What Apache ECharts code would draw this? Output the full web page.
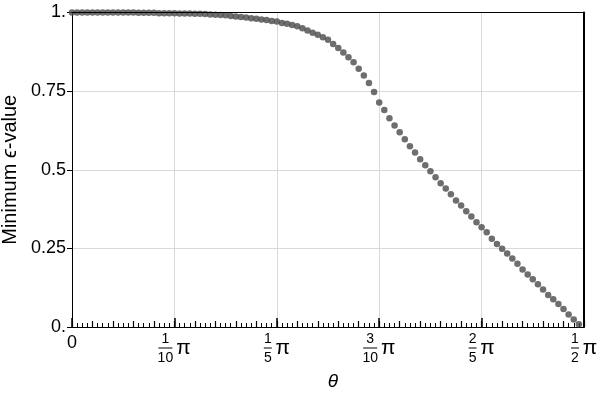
<!DOCTYPE html>
<html>
<head>
<meta charset="utf-8">
<script src="https://cdn.jsdelivr.net/npm/echarts@6/dist/echarts.min.js"></script>
<style>
  html, body { margin: 0; padding: 0; background: #fff; }
  #chart { width: 600px; height: 397px; }
</style>
</head>
<body>
<div id="chart"></div>
<script>
// θ 的采样间隔（以 π 为单位），每 π/200 一个点
const thetaStep = 0.005;
// 最小 ϵ 值
const minEpsilon = [
  1.000, 1.000, 1.000, 1.000, 1.000, 1.000, 1.000, 1.000, 1.000, 1.000,
  1.000, 1.000, 1.000, 0.999, 0.999, 0.999, 0.999, 0.998, 0.998, 0.998,
  0.998, 0.997, 0.997, 0.997, 0.996, 0.996, 0.995, 0.994, 0.993, 0.992,
  0.991, 0.989, 0.987, 0.986, 0.984, 0.982, 0.980, 0.978, 0.976, 0.973,
  0.971, 0.967, 0.964, 0.960, 0.956, 0.950, 0.943, 0.936, 0.929, 0.921,
  0.913, 0.900, 0.887, 0.873, 0.858, 0.842, 0.821, 0.800, 0.776, 0.747,
  0.714, 0.690, 0.664, 0.641, 0.619, 0.597, 0.575, 0.555, 0.533, 0.514,
  0.495, 0.476, 0.457, 0.440, 0.422, 0.402, 0.386, 0.368, 0.351, 0.333,
  0.317, 0.301, 0.281, 0.264, 0.249, 0.234, 0.218, 0.201, 0.183, 0.167,
  0.152, 0.136, 0.119, 0.102, 0.088, 0.073, 0.057, 0.040, 0.024, 0.009
];
// x 轴刻度：分子 / 分母（乘 π）
const xTickNum = ["0", "1", "1", "3", "2", "1"];
const xTickDen = ["", "10", "5", "10", "5", "2"];
const yTickLabels = ["0.", "0.25", "0.5", "0.75", "1."];

const FONT = "'Liberation Sans', Arial, sans-serif";

function xLabel(value) {
  let i = Math.round(value / 0.1);
  let num = xTickNum[i], den = xTickDen[i];
  if (!den) return "{z|" + num + "}";
  let w = den.length > 1 ? "w" : "n";
  return "{n" + w + "|" + num + "}{e| }\n" +
    "{g" + w + "| }{b" + w + "| }{g" + w + "| }{p|π}\n" +
    "{d" + w + "|" + den + "}{e| }";
}

const fracRich = {
  z: { fontSize: 18, lineHeight: 20, color: "#000", fontFamily: FONT },
  nw: { fontSize: 14, width: 18, lineHeight: 12, align: "center", color: "#000", fontFamily: FONT },
  nn: { fontSize: 14, width: 12, lineHeight: 12, align: "center", color: "#000", fontFamily: FONT },
  dw: { fontSize: 14, width: 18, lineHeight: 14, align: "center", color: "#000", fontFamily: FONT },
  dn: { fontSize: 14, width: 12, lineHeight: 14, align: "center", color: "#000", fontFamily: FONT },
  bw: { width: 14, height: 1, lineHeight: 6, align: "center", backgroundColor: "#000" },
  bn: { width: 8, height: 1, lineHeight: 6, align: "center", backgroundColor: "#000" },
  gw: { width: 2, lineHeight: 1, align: "center" },
  gn: { width: 2, lineHeight: 1, align: "center" },
  p: { fontSize: 21, width: 18, lineHeight: 6, align: "center", color: "#000", fontFamily: FONT },
  e: { width: 18, lineHeight: 1, align: "center" }
};

let myChart = echarts.init(document.getElementById("chart"));
myChart.setOption({
  animation: false,
  textStyle: { fontFamily: FONT },
  grid: { left: 72, right: 16, top: 12.5, bottom: 70, outerBoundsMode: "none" },
  xAxis: [
    {
      type: "value",
      min: 0,
      max: 0.5,
      interval: 0.1,
      position: "bottom",
      axisLine: { show: true, onZero: false, lineStyle: { color: "#000", width: 1 } },
      axisTick: { show: true, inside: true, length: 9, lineStyle: { color: "#000", width: 1.5 } },
      minorTick: { show: true, splitNumber: 20, length: 4, lineStyle: { color: "#000", width: 1 } },
      splitLine: { show: true, lineStyle: { color: "#d9d9d9", width: 1 } },
      axisLabel: { margin: 6, formatter: xLabel, rich: fracRich, color: "#000" },
      name: "θ",
      nameLocation: "middle",
      nameGap: 45,
      nameTextStyle: { fontSize: 19, fontStyle: "italic", color: "#000", fontFamily: FONT, padding: [0, 0, 0, 10] }
    },
    {
      // 中间刻度 π/50
      type: "value",
      min: 0,
      max: 0.5,
      interval: 0.02,
      position: "bottom",
      axisLine: { show: false, onZero: false },
      axisTick: { show: true, inside: true, length: 6, lineStyle: { color: "#000", width: 1.2 } },
      axisLabel: { show: false },
      splitLine: { show: false }
    },
    {
      // 上边框
      type: "value",
      min: 0,
      max: 0.5,
      position: "top",
      z: 3,
      axisLine: { show: true, onZero: false, lineStyle: { color: "#000", width: 1 } },
      axisTick: { show: false },
      axisLabel: { show: false },
      splitLine: { show: false }
    }
  ],
  yAxis: [
    {
      type: "value",
      min: 0,
      max: 1,
      interval: 0.25,
      position: "left",
      axisLine: { show: true, onZero: false, lineStyle: { color: "#000", width: 1 } },
      axisTick: { show: true, inside: false, length: 5, lineStyle: { color: "#000", width: 1 } },
      splitLine: { show: true, lineStyle: { color: "#d9d9d9", width: 1 } },
      axisLabel: {
        margin: 6,
        fontSize: 18,
        color: "#000",
        fontFamily: FONT,
        formatter: function(v) { return yTickLabels[Math.round(v / 0.25)]; }
      },
      name: "Minimum {e|ϵ}-value",
      nameLocation: "middle",
      nameGap: 52,
      nameTextStyle: {
        fontSize: 20,
        color: "#000",
        fontFamily: FONT,
        rich: { e: { fontSize: 20, fontStyle: "italic", color: "#000", fontFamily: FONT } }
      }
    },
    {
      // 右边框
      type: "value",
      min: 0,
      max: 1,
      position: "right",
      z: 3,
      axisLine: { show: true, onZero: false, lineStyle: { color: "#000", width: 2 } },
      axisTick: { show: false },
      axisLabel: { show: false },
      splitLine: { show: false }
    }
  ],
  series: [
    {
      type: "scatter",
      xAxisIndex: 0,
      yAxisIndex: 0,
      symbol: "circle",
      symbolSize: 6.5,
      itemStyle: { color: "#4a4a4a" },
      data: minEpsilon.map((v, i) => [i * thetaStep, v])
    }
  ]
});
</script>
</body>
</html>
